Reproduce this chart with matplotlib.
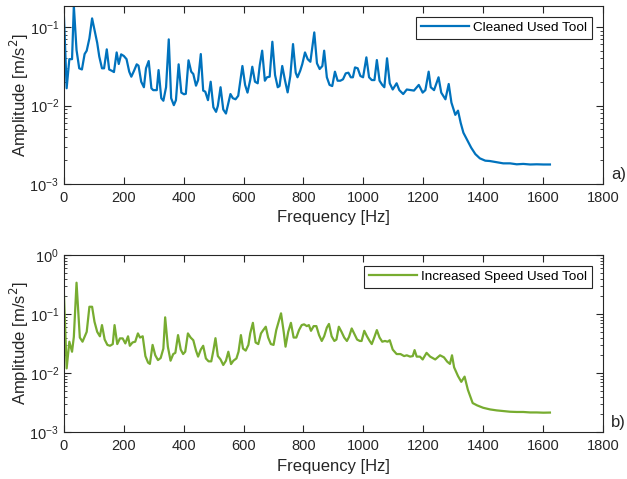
import matplotlib.pyplot as plt
from matplotlib.ticker import LogLocator, NullFormatter

# cleaned used tool spectrum
freq_a = [0, 9, 18, 27, 33, 42, 51, 60, 69, 76, 85, 94, 102, 111, 118, 127, 134, 143, 151, 160,
          167, 176, 183, 191, 200, 209, 218, 225, 234, 243, 249, 258, 267, 274, 283, 292, 298, 310,
          316, 325, 332, 341, 350, 358, 367, 374, 383, 392, 401, 407, 416, 425, 432, 441, 448, 457,
          465, 472, 481, 490, 499, 508, 514, 523, 532, 541, 550, 556, 564, 573, 582, 596, 605, 613,
          622, 629, 638, 647, 654, 662, 671, 678, 687, 696, 705, 714, 720, 729, 738, 747, 756, 765,
          774, 780, 789, 796, 805, 814, 823, 836, 845, 854, 863, 869, 878, 887, 896, 905, 914, 923,
          932, 941, 950, 958, 965, 972, 981, 990, 999, 1010, 1019, 1028, 1037, 1045, 1054, 1063,
          1070, 1079, 1088, 1098, 1111, 1120, 1133, 1145, 1158, 1169, 1185, 1198, 1207, 1218, 1225,
          1236, 1251, 1260, 1274, 1285, 1294, 1307, 1316, 1325, 1334, 1347, 1360, 1374, 1389, 1407,
          1422, 1445, 1467, 1490, 1512, 1534, 1557, 1579, 1601, 1623]
amp_a = [0.135, 0.0166, 0.039, 0.039, 0.186, 0.051, 0.0298, 0.0288, 0.0453, 0.050, 0.0718, 0.129,
         0.0916, 0.063, 0.042, 0.0298, 0.0298, 0.052, 0.0288, 0.0277, 0.0267, 0.0475, 0.0338,
         0.0449, 0.0428, 0.039, 0.027, 0.0233, 0.0277, 0.0335, 0.0322, 0.0201, 0.0171, 0.0298,
         0.0369, 0.0166, 0.0157, 0.0157, 0.0283, 0.0124, 0.0115, 0.0171, 0.0697, 0.0124, 0.0101,
         0.0117, 0.0335, 0.0146, 0.0139, 0.0141, 0.0377, 0.027, 0.0252, 0.0179, 0.0211, 0.0453,
         0.0155, 0.0150, 0.0117, 0.0201, 0.0095, 0.0083, 0.0099, 0.0171, 0.0089, 0.0079, 0.0112,
         0.014, 0.0124, 0.012, 0.0133, 0.0319, 0.0183, 0.0146, 0.0211, 0.0312, 0.0201, 0.0192,
         0.0328, 0.050, 0.0207, 0.0229, 0.0233, 0.065, 0.0245, 0.0171, 0.0177, 0.0319, 0.0211,
         0.0147, 0.0238, 0.0607, 0.0262, 0.0229, 0.0277, 0.0338, 0.0475, 0.039, 0.0361, 0.0855,
         0.0345, 0.0292, 0.0319, 0.050, 0.0229, 0.0183, 0.0177, 0.027, 0.0207, 0.0207, 0.0216,
         0.0257, 0.0262, 0.0229, 0.0229, 0.0306, 0.0298, 0.0238, 0.0229, 0.0411, 0.0229, 0.0211,
         0.0211, 0.038, 0.0207, 0.0183, 0.0171, 0.040, 0.0192, 0.016, 0.0192, 0.0157, 0.014, 0.016,
         0.0157, 0.0155, 0.0183, 0.0146, 0.0157, 0.027, 0.0171, 0.0157, 0.0229, 0.0146, 0.012,
         0.0188, 0.0109, 0.0076, 0.0086, 0.006, 0.0045, 0.0036, 0.0029, 0.0024, 0.00212, 0.00198,
         0.00196, 0.00189, 0.00183, 0.00183, 0.00178, 0.0018, 0.00177, 0.00178, 0.00177, 0.00177]

# increased speed used tool spectrum
freq_b = [0, 9, 18, 27, 33, 42, 53, 62, 76, 85, 94, 102, 111, 120, 127, 136, 145, 154, 163, 169,
          178, 187, 196, 205, 214, 220, 229, 238, 247, 254, 263, 272, 281, 287, 296, 305, 314, 323,
          332, 338, 347, 356, 365, 372, 381, 390, 398, 405, 414, 423, 432, 441, 448, 457, 465, 474,
          483, 492, 499, 506, 514, 523, 532, 541, 549, 558, 566, 576, 583, 591, 598, 607, 616, 622,
          631, 640, 649, 658, 665, 674, 682, 691, 700, 709, 716, 725, 734, 740, 749, 758, 767, 776,
          785, 794, 802, 811, 818, 825, 834, 843, 852, 861, 869, 878, 885, 894, 903, 910, 918, 927,
          936, 945, 952, 961, 970, 979, 988, 994, 1003, 1012, 1021, 1028, 1037, 1045, 1054, 1063,
          1072, 1081, 1088, 1098, 1111, 1124, 1136, 1145, 1156, 1165, 1171, 1178, 1189, 1198, 1211,
          1223, 1240, 1256, 1269, 1280, 1289, 1296, 1303, 1316, 1327, 1338, 1349, 1365, 1380, 1400,
          1423, 1445, 1467, 1490, 1512, 1534, 1557, 1579, 1601, 1623]
amp_b = [0.21, 0.012, 0.034, 0.023, 0.041, 0.34, 0.040, 0.034, 0.050, 0.133, 0.133, 0.074, 0.050,
         0.042, 0.065, 0.037, 0.030, 0.029, 0.031, 0.065, 0.031, 0.0387, 0.0387, 0.0318, 0.042,
         0.029, 0.033, 0.034, 0.047, 0.040, 0.042, 0.0194, 0.015, 0.0143, 0.030, 0.020, 0.0166,
         0.018, 0.026, 0.088, 0.028, 0.0162, 0.021, 0.022, 0.044, 0.025, 0.021, 0.023, 0.047, 0.040,
         0.036, 0.024, 0.019, 0.025, 0.029, 0.0177, 0.0158, 0.0158, 0.024, 0.039, 0.0194, 0.017,
         0.0137, 0.0162, 0.023, 0.0142, 0.0162, 0.0177, 0.023, 0.044, 0.026, 0.024, 0.030, 0.047,
         0.071, 0.033, 0.031, 0.047, 0.053, 0.061, 0.040, 0.031, 0.030, 0.0535, 0.071, 0.103,
         0.0495, 0.028, 0.050, 0.071, 0.040, 0.040, 0.0535, 0.065, 0.067, 0.0625, 0.065, 0.052,
         0.0625, 0.0625, 0.044, 0.035, 0.042, 0.059, 0.068, 0.042, 0.035, 0.037, 0.061, 0.050,
         0.040, 0.035, 0.041, 0.057, 0.046, 0.037, 0.035, 0.035, 0.052, 0.042, 0.035, 0.031, 0.041,
         0.0535, 0.040, 0.034, 0.035, 0.034, 0.036, 0.025, 0.021, 0.021, 0.0194, 0.020, 0.019,
         0.0194, 0.0245, 0.019, 0.019, 0.017, 0.022, 0.019, 0.017, 0.020, 0.0185, 0.0156, 0.0143,
         0.020, 0.0125, 0.0089, 0.0071, 0.0087, 0.0052, 0.0031, 0.00283, 0.00258, 0.00242, 0.00233,
         0.00227, 0.00221, 0.00219, 0.00219, 0.00215, 0.00215, 0.00213, 0.00214]

x_ticks = [0, 200, 400, 600, 800, 1000, 1200, 1400, 1600, 1800]

plt.rcParams['font.family'] = ['Liberation Sans', 'DejaVu Sans']
axis_color = '#262626'

fig = plt.figure(figsize=(6.27, 4.79), dpi=100)
ax_a = fig.add_axes([0.102, 0.616, 0.8596, 0.3716])
ax_b = fig.add_axes([0.102, 0.098, 0.8596, 0.3695])

panels = [
    (ax_a, freq_a, amp_a, '#0072BD', 'Cleaned Used Tool', (1e-3, 0.186), 'a)'),
    (ax_b, freq_b, amp_b, '#77AC30', 'Increased Speed Used Tool', (1e-3, 1), 'b)'),
]

for ax, freq, amp, color, label, ylim, tag in panels:
    ax.plot(freq, amp, '-', color=color, linewidth=1.6, label=label)
    ax.set_yscale('log')
    ax.set_xlim(0, 1800)
    ax.set_ylim(*ylim)
    ax.set_xticks(x_ticks)
    ax.yaxis.set_major_locator(LogLocator(base=10, numticks=10))
    ax.yaxis.set_minor_locator(LogLocator(base=10, subs=range(2, 10), numticks=20))
    ax.yaxis.set_minor_formatter(NullFormatter())
    ax.tick_params(which='both', direction='in', top=True, right=True,
                   colors=axis_color, labelsize=10.5, labelcolor=axis_color)
    ax.tick_params(which='major', length=5)
    ax.tick_params(which='minor', length=2.5)
    ax.tick_params(axis='x', pad=5)
    for spine in ax.spines.values():
        spine.set_color(axis_color)
        spine.set_linewidth(0.8)
    ax.set_xlabel('Frequency [Hz]', fontsize=12, color=axis_color, labelpad=4)
    ax.set_ylabel('Amplitude [m/s$^2$]', fontsize=12, color=axis_color, labelpad=-1)
    leg = ax.legend(loc='upper right', fancybox=False, framealpha=1, edgecolor=axis_color,
                    fontsize=9.7, handlelength=3.6, handletextpad=0.3,
                    borderaxespad=0.8, borderpad=0.35)
    leg.get_frame().set_linewidth(0.8)
    bbox = ax.get_position()
    fig.text(0.975, bbox.y0 + 0.004, tag, fontsize=12, color=axis_color, ha='left', va='bottom')

fig.savefig('out.png', dpi=100)
